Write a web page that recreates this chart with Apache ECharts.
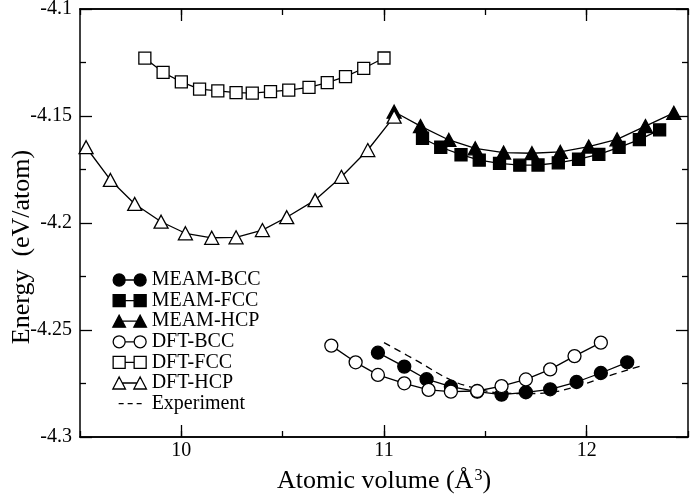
<!DOCTYPE html>
<html>
<head>
<meta charset="utf-8">
<script src="https://cdn.jsdelivr.net/npm/echarts@6/dist/echarts.min.js"></script>
<style>
  html, body { margin: 0; padding: 0; background: #fff; }
  #chart { width: 694px; height: 499px; }
</style>
</head>
<body>
<div id="chart"></div>
<script>
// values (atomic volume in A^3, energy in eV/atom)
var meamBccX = [10.97, 11.10, 11.21, 11.33, 11.46, 11.58, 11.70, 11.82, 11.95, 12.07, 12.20];
var meamBccY = [-4.2606, -4.2671, -4.2730, -4.2765, -4.2788, -4.2802, -4.2791, -4.2777, -4.2743, -4.2701, -4.2651];

var meamFccX = [11.19, 11.28, 11.38, 11.47, 11.57, 11.67, 11.76, 11.86, 11.96, 12.06, 12.16, 12.26, 12.36];
var meamFccY = [-4.1604, -4.1646, -4.1681, -4.1706, -4.1721, -4.1730, -4.1729, -4.1719, -4.1702, -4.1679, -4.1647, -4.1610, -4.1565];

var meamHcpX = [11.05, 11.18, 11.32, 11.45, 11.59, 11.73, 11.87, 12.01, 12.15, 12.29, 12.43];
var meamHcpY = [-4.1480, -4.1547, -4.1612, -4.1651, -4.1671, -4.1674, -4.1668, -4.1643, -4.1609, -4.1547, -4.1485];

var dftBccX = [10.74, 10.86, 10.97, 11.10, 11.22, 11.33, 11.46, 11.58, 11.70, 11.82, 11.94, 12.07];
var dftBccY = [-4.2573, -4.2651, -4.2710, -4.2749, -4.2780, -4.2788, -4.2785, -4.2762, -4.2731, -4.2684, -4.2622, -4.2559];

var dftFccX = [9.82, 9.91, 10.00, 10.09, 10.18, 10.27, 10.35, 10.44, 10.53, 10.63, 10.72, 10.81, 10.90, 11.00];
var dftFccY = [-4.1230, -4.1296, -4.1341, -4.1374, -4.1383, -4.1391, -4.1393, -4.1386, -4.1379, -4.1366, -4.1344, -4.1316, -4.1277, -4.1229];

var dftHcpX = [9.53, 9.65, 9.77, 9.90, 10.02, 10.15, 10.27, 10.40, 10.52, 10.66, 10.79, 10.92, 11.05];
var dftHcpY = [-4.1646, -4.1799, -4.1911, -4.1994, -4.2048, -4.2069, -4.2067, -4.2033, -4.1973, -4.1893, -4.1784, -4.1659, -4.1503];

var expX = [11.00, 11.17, 11.33, 11.45, 11.58, 11.70, 11.82, 11.95, 12.07, 12.27];
var expY = [-4.2559, -4.2648, -4.2734, -4.2772, -4.2795, -4.2797, -4.2792, -4.2764, -4.2726, -4.2667];

var xMajorTicks = [10, 11, 12];

var FONT = 'Liberation Serif';

function pairs(xs, ys) {
	var out = [];
	for (var i = 0; i < xs.length; i++) out.push([xs[i], ys[i]]);
	return out;
}

// legend icons: symbol - line - symbol
var iconCircle = 'path://M0,0L0,0 M34,13L34,13 M0.5,6.5a6,6 0 1,0 12,0a6,6 0 1,0 -12,0Z M12.5,6.5L21.5,6.5 M21.5,6.5a6,6 0 1,0 12,0a6,6 0 1,0 -12,0Z';
var iconSquare = 'path://M0,0L0,0 M34,13L34,13 M0.5,0.5L12.5,0.5L12.5,12.5L0.5,12.5Z M12.5,6.5L21.5,6.5 M21.5,0.5L33.5,0.5L33.5,12.5L21.5,12.5Z';
var iconTri = 'path://M0,0L0,0 M34,13L34,13 M6.5,0.5L12.8,12.5L0.2,12.5Z M9.7,6.5L24.3,6.5 M27.5,0.5L33.8,12.5L21.2,12.5Z';
var iconDash = 'path://M0,0L0,0 M34,13L34,13 M6,6.5L11,6.5 M15,6.5L20,6.5 M24,6.5L29,6.5';

var filled = { color: '#000', borderColor: '#000', borderWidth: 1.3 };
var open = { color: '#fff', borderColor: '#000', borderWidth: 1.3 };

function lineSeries(name, xs, ys, symbol, size, style) {
	return {
		name: name,
		type: 'line',
		data: pairs(xs, ys),
		symbol: symbol,
		symbolSize: size,
		showAllSymbol: true,
		itemStyle: style,
		lineStyle: { color: '#000', width: 1.3 },
		emphasis: { disabled: true },
		animation: false
	};
}

var chart = echarts.init(document.getElementById('chart'));

var axisLineStyle = { color: '#000', width: 1.5 };

var option = {
	backgroundColor: '#fff',
	animation: false,
	textStyle: { fontFamily: FONT, color: '#000' },
	grid: [
		{ left: 80, right: 6, top: 9, bottom: 62, containLabel: false, outerBoundsMode: 'none' },
		{ left: 80, right: 6, top: 9, bottom: 62, containLabel: false, outerBoundsMode: 'none' }
	],
	legend: {
		orient: 'vertical',
		left: 107,
		top: 265,
		itemWidth: 34,
		itemHeight: 13,
		itemGap: 0.6,
		textStyle: { fontFamily: FONT, fontSize: 20, color: '#000' },
		data: [
			{ name: 'MEAM-BCC', icon: iconCircle, itemStyle: filled },
			{ name: 'MEAM-FCC', icon: iconSquare, itemStyle: filled },
			{ name: 'MEAM-HCP', icon: iconTri, itemStyle: filled },
			{ name: 'DFT-BCC', icon: iconCircle, itemStyle: open },
			{ name: 'DFT-FCC', icon: iconSquare, itemStyle: open },
			{ name: 'DFT-HCP', icon: iconTri, itemStyle: open },
			{ name: 'Experiment', icon: iconDash, itemStyle: { color: 'transparent', borderColor: '#000', borderWidth: 1.3 } }
		]
	},
	xAxis: [
		{
			gridIndex: 0, type: 'value', position: 'bottom',
			min: 9.5, max: 12.5, interval: 0.5,
			name: 'Atomic volume (\u00c5{sup|3})',
			nameLocation: 'middle', nameGap: 31, nameMoveOverlap: false,
			nameTextStyle: {
				fontFamily: FONT, fontSize: 26, color: '#000',
				rich: { sup: { fontFamily: FONT, fontSize: 16, verticalAlign: 'top', lineHeight: 16, padding: [0, 0, 0, 1] } }
			},
			axisLine: { lineStyle: axisLineStyle },
			axisTick: { inside: true, length: 12, customValues: xMajorTicks, lineStyle: { color: '#000', width: 1.3 } },
			axisLabel: { customValues: xMajorTicks, fontFamily: FONT, fontSize: 20, color: '#000', margin: 4 },
			splitLine: { show: false }
		},
		{
			gridIndex: 0, type: 'value', position: 'top',
			min: 9.5, max: 12.5, interval: 0.5,
			axisLine: { lineStyle: axisLineStyle },
			axisTick: { inside: true, length: 12, customValues: xMajorTicks, lineStyle: { color: '#000', width: 1.3 } },
			axisLabel: { show: false },
			splitLine: { show: false }
		},
		{
			gridIndex: 1, type: 'value', position: 'bottom',
			min: 9.5, max: 12.5, interval: 0.5,
			axisLine: { lineStyle: axisLineStyle },
			axisTick: { inside: true, length: 6, lineStyle: { color: '#000', width: 1.3 } },
			axisLabel: { show: false },
			splitLine: { show: false }
		},
		{
			gridIndex: 1, type: 'value', position: 'top',
			min: 9.5, max: 12.5, interval: 0.5,
			axisLine: { lineStyle: axisLineStyle },
			axisTick: { inside: true, length: 6, lineStyle: { color: '#000', width: 1.3 } },
			axisLabel: { show: false },
			splitLine: { show: false }
		}
	],
	yAxis: [
		{
			gridIndex: 0, type: 'value', position: 'left',
			min: -4.3, max: -4.1, interval: 0.05,
			name: 'Energy  (eV/atom)',
			nameLocation: 'middle', nameGap: 45, nameMoveOverlap: false,
			nameTextStyle: { fontFamily: FONT, fontSize: 26, color: '#000', padding: [0, 48, 0, 0] },
			axisLine: { lineStyle: axisLineStyle },
			axisTick: { inside: true, length: 12, lineStyle: { color: '#000', width: 1.3 } },
			minorTick: { show: true, splitNumber: 2, length: 6, lineStyle: { color: '#000', width: 1.3 } },
			axisLabel: { fontFamily: FONT, fontSize: 20, color: '#000', margin: 8 },
			splitLine: { show: false },
			minorSplitLine: { show: false }
		},
		{
			gridIndex: 0, type: 'value', position: 'right',
			min: -4.3, max: -4.1, interval: 0.05,
			axisLine: { lineStyle: axisLineStyle },
			axisTick: { inside: true, length: 12, lineStyle: { color: '#000', width: 1.3 } },
			minorTick: { show: true, splitNumber: 2, length: 6, lineStyle: { color: '#000', width: 1.3 } },
			axisLabel: { show: false },
			splitLine: { show: false }
		},
		{
			gridIndex: 1, type: 'value', min: -4.3, max: -4.1, show: false
		}
	],
	series: [
		lineSeries('MEAM-BCC', meamBccX, meamBccY, 'circle', 13, filled),
		lineSeries('MEAM-FCC', meamFccX, meamFccY, 'rect', 12, filled),
		lineSeries('MEAM-HCP', meamHcpX, meamHcpY, 'triangle', [14, 13], filled),
		lineSeries('DFT-BCC', dftBccX, dftBccY, 'circle', 13, open),
		lineSeries('DFT-FCC', dftFccX, dftFccY, 'rect', 12, open),
		lineSeries('DFT-HCP', dftHcpX, dftHcpY, 'triangle', [14, 13], open),
		{
			name: 'Experiment',
			type: 'line',
			data: pairs(expX, expY),
			symbol: 'none',
			smooth: 0.4,
			lineStyle: { color: '#000', width: 1.3, type: [7, 5] },
			itemStyle: { color: '#000' },
			emphasis: { disabled: true },
			animation: false
		}
	]
};

chart.setOption(option);
</script>
</body>
</html>
